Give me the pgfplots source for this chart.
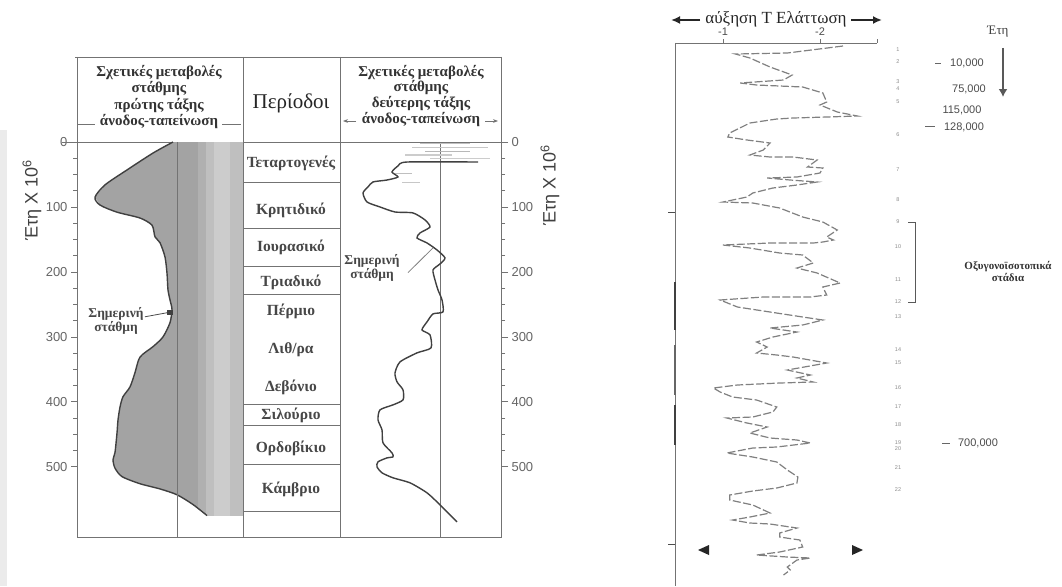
\documentclass[border=0pt]{standalone}
\usepackage{fontspec}
\setmainfont{Liberation Serif}
\setsansfont{Liberation Sans}
\usepackage{pgfplots}
\pgfplotsset{compat=1.18}
\usetikzlibrary{arrows.meta}
\definecolor{lineg}{gray}{0.45}
\newcommand{\fs}[1]{\fontsize{#1}{#1}\selectfont}
\begin{document}
\begin{tikzpicture}
\useasboundingbox (0pt,0pt) rectangle (1062pt,-586pt);
\fill[white] (0pt,0pt) rectangle (1062pt,-586pt);
\fill[black!8] (0pt,-130pt) rectangle (7pt,-586pt);

%================ LEFT PANEL ==================
\begin{axis}[
  at={(77pt,-142pt)}, anchor=north west,
  width=424pt, height=395pt, scale only axis,
  xmin=77, xmax=501, ymin=0, ymax=608, y dir=reverse,
  axis line style={lineg, line width=0.9pt},
  xtick=\empty,
  ytick={0,100,...,500}, minor y tick num=3,
  ytick pos=left, tick align=outside,
  major tick length=6pt, minor tick length=4pt,
  every tick/.style={lineg, line width=0.8pt},
  yticklabel style={font=\sffamily\fs{13}, text=black!60},
  /pgf/number format/assume math mode=true,
  clip=false,
]
% first-order sea level: shaded area
\addplot[draw=none, fill=black!36] coordinates {
 (173,0) (153,17) (127,43) (105,66) (95,85) (100,97) (117,108) (140,117)
 (152,128) (155,146) (160,155) (165,177) (167,202) (168,228) (170,243)
 (172,258) (170,278) (163,300) (153,315) (140,331) (135,355) (130,377)
 (123,392) (120,408) (118,428) (117,448) (115,478) (113,489) (115,502)
 (122,515) (140,526) (160,534) (177,543) (193,558) (207,575)
 (243,575) (243,0)} -- cycle;
\addplot[draw=none, fill=black!31] coordinates {(198,0)(206,0)(206,572)(198,565)} -- cycle;
\addplot[draw=none, fill=black!25] coordinates {(206,0)(214,0)(214,575)(206,575)} -- cycle;
\addplot[draw=none, fill=black!20] coordinates {(214,0)(230,0)(230,575)(214,575)} -- cycle;
\addplot[draw=none, fill=black!25] coordinates {(230,0)(243,0)(243,575)(230,575)} -- cycle;
% first-order curve
\addplot[black!75, line width=1.4pt, smooth, tension=0.45] coordinates {
 (173,0) (153,17) (127,43) (105,66) (95,85) (100,97) (117,108) (140,117)
 (152,128) (155,146) (160,155) (165,177) (167,202) (168,228) (170,243)
 (172,258) (170,278) (163,300) (153,315) (140,331) (135,355) (130,377)
 (123,392) (120,408) (118,428) (117,448) (115,478) (113,489) (115,502)
 (122,515) (140,526) (160,534) (177,543) (193,558) (207,575)};
% present-day levels
\addplot[lineg, line width=0.9pt] coordinates {(177,0)(177,608)};
\addplot[lineg, line width=0.9pt] coordinates {(440,0)(440,608)};
% top scribbles of second-order curve
\addplot[black!25, line width=1.6pt] coordinates {(420,2)(470,2)};
\addplot[black!22, line width=1.4pt] coordinates {(412,8)(488,8)};
\addplot[black!28, line width=1.2pt] coordinates {(425,14)(470,14)};
\addplot[black!20, line width=1.2pt] coordinates {(405,20)(452,20)};
\addplot[black!20, line width=1.2pt] coordinates {(430,25)(490,25)};
\addplot[black!25, line width=1.2pt] coordinates {(395,48)(412,48)};
\addplot[black!22, line width=1.2pt] coordinates {(402,62)(420,62)};
% second-order curve
\addplot[black!75, line width=1.4pt, smooth, tension=0.4] coordinates {
 (478,30.8) (407,30.8) (398,36.9) (392,46.2) (398,53.8) (387,58.5) (373,61.5)
 (368,69.2) (363,78.5) (367,92.3) (380,100) (395,107.7) (413,109.2) (425,120)
 (430,130.8) (420,140) (417,147.7) (427,155.4) (437,166.2) (445,178.5)
 (440,187.7) (433,196.9) (435,212.3) (438,227.7) (442,243.1) (443,261.5)
 (433,264.6) (427,276.9) (422,289.2) (430,296.9) (431,316.9) (417,324.6)
 (400,338.5) (395,355.4) (397,369.2) (403,381.5) (403,396.9) (393,404.6)
 (380,412.3) (378,427.7) (382,443.1) (383,463.1) (392,478.5) (393,484.6)
 (387,486.2) (378,492.3) (377,500) (382,509.2) (393,516.9) (410,524.6)
 (427,540) (440,558.5) (457,584.6)};
% column borders and period rows
\draw[lineg, line width=0.9pt] (axis cs:243,0) -- (axis cs:243,608);
\draw[lineg, line width=0.9pt] (axis cs:340,0) -- (axis cs:340,608);
\pgfplotsinvokeforeach{61.5,132.3,190.8,233.8,404.6,436.9,496.9,569.2}{
  \draw[lineg, line width=0.8pt] (axis cs:243,#1) -- (axis cs:340,#1);}
% "present level" markers
\draw[black!70, line width=0.8pt] (axis cs:145,269) -- (axis cs:170,262);
\fill[black!75] (axis cs:167,259) rectangle (axis cs:173,266);
\draw[black!50, line width=0.8pt] (axis cs:408,201) -- (axis cs:433,163);
\end{axis}

\begin{axis}[
  at={(77pt,-142pt)}, anchor=north west,
  width=424pt, height=395pt, scale only axis,
  xmin=77, xmax=501, ymin=0, ymax=608, y dir=reverse,
  axis x line=none, axis y line*=right,
  axis line style={lineg, line width=0.9pt},
  ytick={0,100,...,500}, minor y tick num=3,
  tick align=outside, yticklabel pos=right,
  major tick length=7pt, minor tick length=4pt,
  every tick/.style={lineg, line width=0.8pt},
  yticklabel style={font=\sffamily\fs{13}, text=black!60},
  /pgf/number format/assume math mode=true,
]
\addplot[draw=none] coordinates {(300,300)};
\end{axis}

% header frame
\draw[lineg, line width=0.9pt] (75pt,-57pt) -- (501pt,-57pt);
\draw[lineg, line width=0.9pt] (62pt,-142pt) -- (77pt,-142pt);
\draw[lineg, line width=0.9pt] (501pt,-142pt) -- (506pt,-142pt);
\foreach \xx in {77,243,340,501} {\draw[lineg, line width=0.9pt] (\xx pt,-57pt) -- (\xx pt,-142pt);}
\draw[lineg, line width=0.8pt] (78pt,-124pt) -- (95pt,-124pt);
\draw[lineg, line width=0.8pt] (222pt,-124pt) -- (241pt,-124pt);
\draw[lineg, line width=0.8pt, -{Stealth[length=5pt]}] (356pt,-121pt) -- (343pt,-121pt);
\draw[lineg, line width=0.8pt, -{Stealth[length=5pt]}] (485pt,-121pt) -- (498pt,-121pt);

\begin{scope}[every node/.style={text=black!80, font=\bfseries\fs{15}, inner sep=0pt}]
\node at (159pt,-73pt) {Σχετικές μεταβολές};
\node at (159pt,-89pt) {στάθμης};
\node at (159pt,-106pt) {πρώτης τάξης};
\node at (159pt,-122pt) {άνοδος-ταπείνωση};
\node at (421pt,-73pt) {Σχετικές μεταβολές};
\node at (421pt,-88pt) {στάθμης};
\node at (421pt,-104pt) {δεύτερης τάξης};
\node at (421pt,-120pt) {άνοδος-ταπείνωση};
\end{scope}
\node[text=black!85, font=\fs{21}] at (291pt,-103pt) {Περίοδοι};

\begin{scope}[every node/.style={text=black!72, font=\bfseries\fs{15.5}}]
\node at (291pt,-163pt) {Τεταρτογενές};
\node at (291pt,-210pt) {Κρητιδικό};
\node at (291pt,-247pt) {Ιουρασικό};
\node at (291pt,-282pt) {Τριαδικό};
\node at (291pt,-311pt) {Πέρμιο};
\node at (291pt,-350pt) {Λιθ/ρα};
\node at (291pt,-387pt) {Δεβόνιο};
\node at (291pt,-415pt) {Σιλούριο};
\node at (291pt,-448pt) {Ορδοβίκιο};
\node at (291pt,-489pt) {Κάμβριο};
\node[align=center, font=\bfseries\fs{13.5}] at (116pt,-321pt) {Σημερινή\\[1pt]στάθμη};
\node[align=center, font=\bfseries\fs{13.5}] at (372pt,-268pt) {Σημερινή\\[1pt]στάθμη};
\end{scope}

\node[rotate=90, text=black!75, font=\sffamily\fs{18}] at (32pt,-200pt) {Έτη X 10\textsuperscript{6}};
\node[rotate=90, text=black!75, font=\sffamily\fs{18}] at (550pt,-185pt) {Έτη X 10\textsuperscript{6}};

%================ RIGHT PANEL ==================
\begin{axis}[
  at={(675pt,-43pt)}, anchor=north west,
  width=202pt, height=543pt, scale only axis,
  xmin=-2.604, xmax=-0.5, x dir=reverse,
  ymin=0, ymax=543, y dir=reverse,
  hide axis, clip=false,
]
\addplot[black!50, line width=1.2pt, dash pattern=on 8pt off 2.5pt] coordinates {
 (-2.25,3) (-1.67,10) (-1.13,11) (-1.28,15) (-1.49,24) (-1.72,32) (-1.63,37)
 (-1.18,40) (-1.35,42) (-1.83,44) (-2.04,50) (-2.08,59) (-2.01,62) (-2.19,69)
 (-2.40,73) (-2.08,74) (-1.73,75) (-1.56,76) (-1.28,80) (-1.07,90) (-1.05,94)
 (-1.25,97) (-1.49,100) (-1.42,107) (-1.28,112) (-1.49,114) (-1.73,114)
 (-1.98,117) (-1.88,124) (-2.04,125) (-2.01,130) (-1.77,134) (-1.46,135)
 (-1.70,137) (-1.98,139) (-1.77,142) (-1.52,145) (-1.31,150) (-1.25,154)
 (-1.00,159) (-1.31,160) (-1.59,165) (-1.83,174) (-2.04,179) (-2.19,187)
 (-2.08,194) (-2.15,197) (-2.04,199) (-1.94,200) (-1.49,200) (-1.00,202)
 (-1.28,205) (-1.59,210) (-1.83,212) (-1.94,220) (-1.77,225) (-1.98,230)
 (-2.22,240) (-2.04,244) (-2.08,252) (-1.91,254) (-1.42,254) (-0.97,257)
 (-1.15,264) (-1.49,269) (-1.83,274) (-2.04,277) (-1.83,282) (-1.49,285)
 (-1.77,289) (-1.52,294) (-1.35,299) (-1.46,304) (-1.35,310) (-1.56,312)
 (-1.73,314) (-2.08,320) (-1.67,327) (-1.91,332) (-1.77,335) (-1.94,339)
 (-1.59,340) (-1.15,342) (-0.90,345) (-0.97,349) (-1.10,354) (-1.35,357)
 (-1.56,364) (-1.52,369) (-1.31,374) (-1.04,375) (-1.25,380) (-1.46,384)
 (-1.28,390) (-1.49,395) (-1.77,397) (-1.91,400) (-1.56,404) (-1.31,405)
 (-1.04,410) (-1.31,414) (-1.56,419) (-1.67,427) (-1.78,434) (-1.77,440)
 (-1.56,445) (-1.31,448) (-1.07,452) (-1.07,457) (-1.31,462) (-1.49,470)
 (-1.28,474) (-1.10,477) (-1.28,480) (-1.49,481) (-1.77,485) (-1.59,490)
 (-1.59,494) (-1.80,497) (-1.83,504) (-1.59,509) (-1.35,512) (-1.67,514)
 (-1.91,515) (-1.77,517) (-1.67,524) (-1.70,527) (-1.63,532)};
\end{axis}

% right panel frame
\draw[black!55, line width=0.9pt] (675pt,-43pt) -- (877pt,-43pt);
\draw[black!55, line width=0.9pt] (675pt,-43pt) -- (675pt,-586pt);
\foreach \xx in {723,820,877} {\draw[black!55, line width=0.8pt] (\xx pt,-43pt) -- (\xx pt,-39pt);}
\foreach \yy in {212,544} {\draw[black!70, line width=1pt] (668pt,-\yy pt) -- (675pt,-\yy pt);}
\draw[black!75, line width=1.8pt] (675pt,-282pt) -- (675pt,-330pt);
\draw[black!75, line width=1.8pt] (675pt,-405pt) -- (675pt,-445pt);
\draw[black!60, line width=1.4pt] (675pt,-345pt) -- (675pt,-395pt);
\node[text=black!70, font=\sffamily\fs{11}] at (723pt,-32pt) {-1};
\node[text=black!70, font=\sffamily\fs{11}] at (820pt,-32pt) {-2};
\draw[black!85, line width=1.8pt, -{Latex[length=9pt,width=8pt]}] (700pt,-20pt) -- (671pt,-20pt);
\draw[black!85, line width=1.8pt, -{Latex[length=9pt,width=8pt]}] (851pt,-20pt) -- (882pt,-20pt);
\node[text=black!85, font=\fs{17}, inner sep=0pt] at (776pt,-19pt) {αύξηση Τ Ελάττωση};
\fill[black!85] (698pt,-550pt) -- (709pt,-545pt) -- (709pt,-555pt) -- cycle;
\fill[black!85] (863pt,-550pt) -- (852pt,-545pt) -- (852pt,-555pt) -- cycle;

% stage numbers
\foreach \n/\yy in {1/50,2/62,3/82,4/89,5/102,6/135,7/170,8/200,9/222,10/247,11/280,12/302,13/317,14/350,15/363,16/388,17/407,18/425,19/443,20/449,21/468,22/490}
  {\node[text=black!45, font=\sffamily\fs{5.5}] at (898pt,-\yy pt) {\n};}
% bracket
\draw[black!65, line width=0.9pt] (908pt,-222pt) -- (915pt,-222pt) -- (915pt,-302pt) -- (908pt,-302pt);
\node[align=center, text=black!80, font=\bfseries\fs{11}] at (1008pt,-271pt) {Οξυγονοϊσοτοπικά\\[1pt]στάδια};

% ages
\begin{scope}[every node/.style={text=black!70, font=\sffamily\fs{11}}]
\node at (967pt,-63pt) {10,000};
\node at (969pt,-89pt) {75,000};
\node at (962pt,-110pt) {115,000};
\node at (964pt,-127pt) {128,000};
\node at (978pt,-443pt) {700,000};
\end{scope}
\draw[black!60, line width=0.8pt] (935pt,-63pt) -- (941pt,-63pt);
\draw[black!60, line width=0.8pt] (925pt,-126pt) -- (935pt,-126pt);
\draw[black!60, line width=0.8pt] (942pt,-443pt) -- (950pt,-443pt);
\node[text=black!75, font=\fs{13}] at (998pt,-32pt) {Έτη};
\draw[black!65, line width=2pt, -{Latex[length=8pt,width=9pt]}] (1003pt,-48pt) -- (1003pt,-97pt);
\end{tikzpicture}
\end{document}
